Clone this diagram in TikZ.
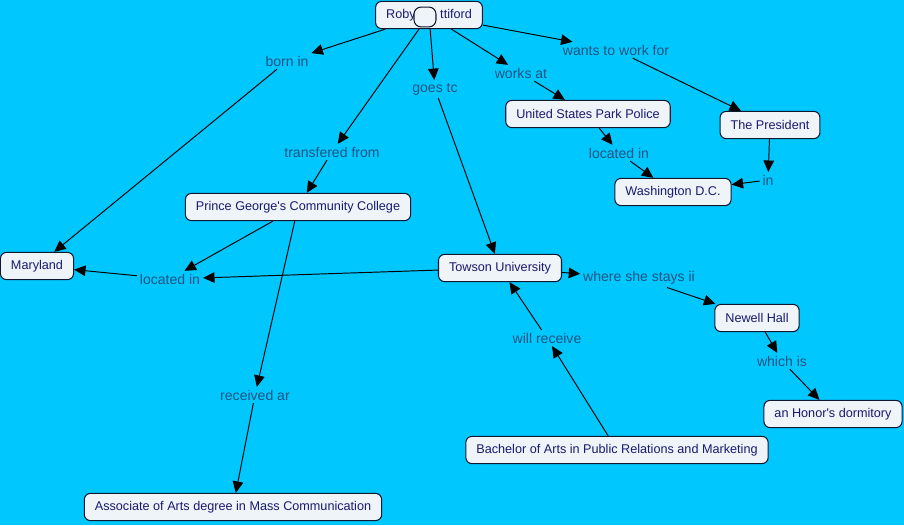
\documentclass[tikz,border=0pt]{standalone}
\usepackage{fontspec}
\setmainfont{Liberation Sans}
\usepackage{xcolor}
\usetikzlibrary{arrows.meta}

\definecolor{sky}{RGB}{0,200,255}
\definecolor{boxfill}{RGB}{238,244,248}
\definecolor{boxline}{RGB}{16,24,48}
\definecolor{boxtext}{RGB}{26,26,110}
\definecolor{labtext}{RGB}{30,84,130}

\tikzset{
    concept/.style={draw=boxline, fill=boxfill, text=boxtext, rounded corners=3.5pt,
        line width=0.6pt, inner xsep=6pt, minimum height=15.5pt,
        font=\fontsize{7.2}{8.6}\selectfont},
    linkword/.style={text=labtext, inner sep=1.5pt, font=\fontsize{8}{9.6}\selectfont},
    link/.style={draw=black, line width=0.55pt, -{Triangle[length=6.5pt,width=6pt]}}
}

\begin{document}
\begin{tikzpicture}[x=0.02cm,y=-0.02cm]
    % Background
    \fill[sky] (0,0) rectangle (904,525);
    \useasboundingbox (0,0) rectangle (904,525);

    % Concepts
    \node[concept] (roby) at (429,15) {Roby\hspace{14pt}ttiford};
    \foreach \name/\x/\y/\txt in {usp/588/114/United States Park Police,
        pres/770/125/The President, wdc/673/192/Washington D.C.,
        pgcc/298/207/Prince George\textquotesingle s Community College, md/37/266/Maryland,
        tu/500/268/Towson University, nh/757/318/Newell Hall,
        hon/833/414/an Honor\textquotesingle s dormitory,
        ba/617/450/Bachelor of Arts in Public Relations and Marketing,
        aa/233/507/Associate of Arts degree in Mass Communication} {
        \node[concept] (\name) at (\x,\y) {\txt};
    }

    % Linking words
    \foreach \name/\x/\y/\txt in {bornin/287/61/born in, goesto/435/89/goes tc,
        worksat/521/73/works at, wants/616/50/wants to work for,
        transf/332/152/transfered from, locr/619/153/located in, in/768/180/in,
        locl/170/279/located in, stays/639/278/where she stays ii,
        willrec/547/338/will receive, whichis/782/361/which is,
        recv/255/395/received ar} {
        \node[linkword] (\name) at (\x,\y) {\txt};
    }

    % Connectors
    \foreach \a/\b in {roby/bornin, bornin/md, roby/transf, transf/pgcc,
        roby/goesto, goesto/tu, roby/worksat, worksat/usp, roby/wants, wants/pres,
        usp/locr, locr/wdc, pres/in, in/wdc, pgcc/locl, tu/locl, locl/md,
        pgcc/recv, recv/aa, tu/stays, stays/nh, nh/whichis, whichis/hon,
        ba/willrec, willrec/tu} {
        \draw[link] (\a) -- (\b);
    }

    % Small box over the name
    \node[draw=boxline, fill=boxfill, rounded corners=4pt, line width=0.6pt,
        minimum width=12.5pt, minimum height=11.3pt, inner sep=0pt] (dot) at (425,17) {};
\end{tikzpicture}
\end{document}
